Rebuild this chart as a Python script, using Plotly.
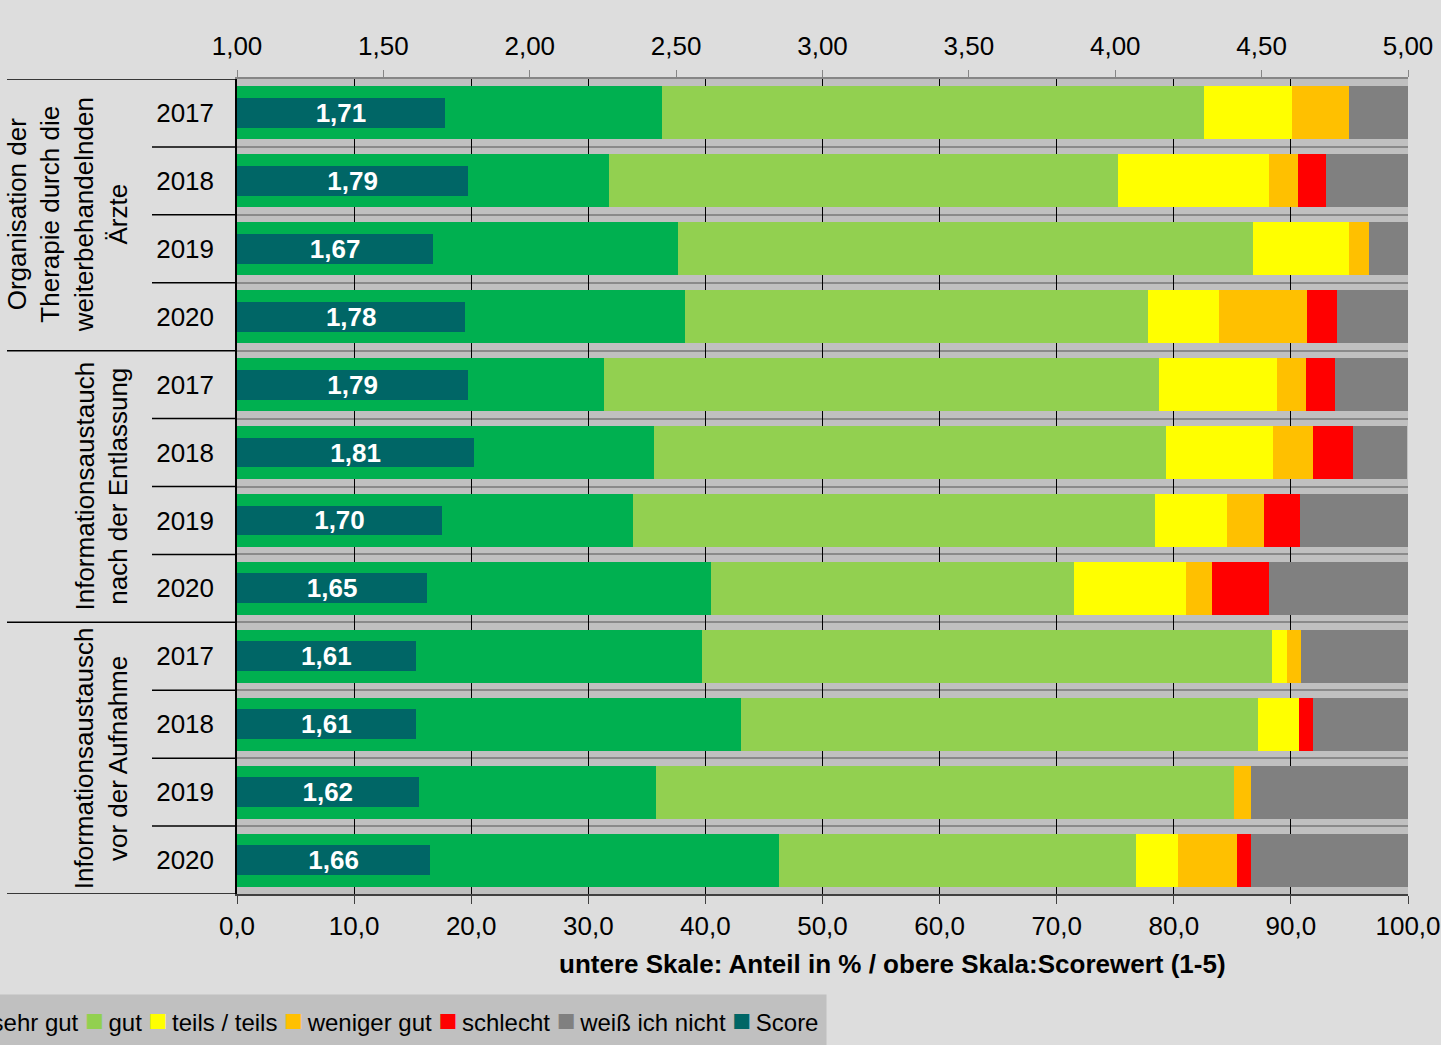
import plotly.graph_objects as go

# categories
groups = ["Organisation der<br>Therapie durch die<br>weiterbehandelnden<br>Ärzte",
          "Informationsaustauch<br>nach der Entlassung",
          "Informationsaustausch<br>vor der Aufnahme"]
years = ["2017", "2018", "2019", "2020"]

# shares in % (top row first)
sehr_gut = [36.3, 31.8, 37.7, 38.3, 31.3, 35.6, 33.8, 40.5, 39.7, 43.0, 35.8, 46.3]
gut = [46.3, 43.4, 49.1, 39.5, 47.4, 43.7, 44.6, 31.0, 48.7, 44.2, 49.3, 30.5]
teils = [7.5, 12.9, 8.2, 6.1, 10.1, 9.2, 6.1, 9.5, 1.3, 3.5, 0.0, 3.6]
weniger_gut = [4.9, 2.5, 1.7, 7.5, 2.5, 3.4, 3.2, 2.3, 1.2, 0.0, 1.5, 5.0]
schlecht = [0.0, 2.4, 0.0, 2.5, 2.5, 3.4, 3.1, 4.8, 0.0, 1.2, 0.0, 1.2]
weiss_nicht = [5.0, 7.0, 3.3, 6.1, 6.2, 4.6, 9.2, 11.9, 9.1, 8.1, 13.4, 13.4]
score = [1.71, 1.79, 1.67, 1.78, 1.79, 1.81, 1.70, 1.65, 1.61, 1.61, 1.62, 1.66]

series = [
    ("sehr gut", sehr_gut, "#00B050"),
    ("gut", gut, "#92D050"),
    ("teils / teils", teils, "#FFFF00"),
    ("weniger gut", weniger_gut, "#FFC000"),
    ("schlecht", schlecht, "#FF0000"),
    ("weiß ich nicht", weiss_nicht, "#808080"),
]
score_color = "#006666"

FONT = "Liberation Sans, Arial, sans-serif"
W, H = 1441, 1045
L, R, T, B = 237, 33, 79, 151
PW, PH = W - L - R, H - T - B


def px(x):
    return (x - L) / PW


def py(y):
    return (H - B - y) / PH


rows = list(range(len(score)))
row_years = years * len(groups)

fig = go.Figure()

for name, vals, col in series:
    fig.add_trace(go.Bar(
        y=rows, x=vals, name=name, orientation="h",
        marker=dict(color=col, line=dict(width=0)),
        width=0.78, showlegend=False, hoverinfo="x+name"))

fig.add_trace(go.Bar(
    y=rows, x=[s - 1 for s in score], base=1, name="Score", orientation="h",
    xaxis="x2", width=0.44,
    marker=dict(color=score_color, line=dict(width=0)),
    text=[f"{s:.2f}".replace(".", ",") for s in score],
    textposition="inside", insidetextanchor="middle", constraintext="none",
    textangle=0, textfont=dict(family=FONT, size=26, color="white", weight="bold"),
    showlegend=False, hoverinfo="text"))

shapes = []
n_per = len(years)
for g in range(len(groups) + 1):
    yb = g * n_per - 0.5
    shapes.append(dict(type="line", xref="paper", yref="y", x0=px(7), x1=0,
                       y0=yb, y1=yb, line=dict(color="black", width=1.5)))
for i in range(1, len(rows)):
    if i % n_per:
        shapes.append(dict(type="line", xref="paper", yref="y", x0=px(152), x1=0,
                           y0=i - 0.5, y1=i - 0.5, line=dict(color="black", width=1.5)))

annotations = []
for g, label in enumerate(groups):
    annotations.append(dict(
        text=label, xref="paper", yref="y", x=px(135), y=g * n_per + (n_per - 1) / 2,
        xanchor="right", yanchor="middle", textangle=-90, showarrow=False,
        align="center", font=dict(family=FONT, size=26, color="black")))

annotations.append(dict(
    text="untere Skale: Anteil in % / obere Skala:Scorewert (1-5)",
    xref="paper", yref="paper", x=px(892), y=py(964), showarrow=False,
    xanchor="center", yanchor="middle",
    font=dict(family=FONT, size=26, color="black", weight="bold")))

legend_items = [(n, c) for n, _, c in series] + [("Score", score_color)]
legend_text = " ".join(
    f"<span style='color:{c};font-size:31px'>■</span>\u2009{n}" for n, c in legend_items)
annotations.append(dict(
    text=legend_text, xref="paper", yref="paper", x=px(827), y=py(1020),
    xanchor="right", yanchor="middle", showarrow=False, bgcolor="#C0C0C0",
    borderpad=8, font=dict(family=FONT, size=24, color="black")))

fig.update_layout(
    width=W, height=H,
    margin=dict(l=L, r=R, t=T, b=B, autoexpand=False),
    paper_bgcolor="#DDDDDD", plot_bgcolor="#C0C0C0",
    barmode="stack", bargap=0.22, separators=",.",
    font=dict(family=FONT, size=26, color="black"),
    showlegend=False,
    xaxis=dict(range=[0, 100], tickvals=list(range(0, 101, 10)), tickformat=".1f",
               showgrid=True, gridcolor="black", gridwidth=1,
               showline=True, linecolor="#404040", linewidth=2,
               ticks="outside", ticklen=8, tickcolor="#404040",
               tickfont=dict(size=26), zeroline=False, fixedrange=True),
    xaxis2=dict(range=[1, 5], tickvals=[1 + 0.5 * k for k in range(9)], tickformat=".2f",
                overlaying="x", side="top", showgrid=False,
                showline=True, linecolor="#868686", linewidth=2,
                ticks="outside", ticklen=7, tickcolor="#868686", ticklabelstandoff=5,
                tickfont=dict(size=26), zeroline=False, fixedrange=True),
    yaxis=dict(range=[len(rows) - 0.5, -0.5], tickvals=rows, ticktext=row_years,
               showgrid=False, showline=True, linecolor="black", linewidth=1.5,
               ticks="outside", ticklen=16, tickcolor="rgba(0,0,0,0)",
               minor=dict(tick0=0.5, dtick=1, showgrid=True, gridcolor="#8A8A8A",
                          gridwidth=2, ticks=""),
               tickfont=dict(size=26), zeroline=False, fixedrange=True),
    shapes=shapes, annotations=annotations,
)

fig.write_html("out.html", config={"displayModeBar": False},
               post_script="document.body.style.margin='0';")
